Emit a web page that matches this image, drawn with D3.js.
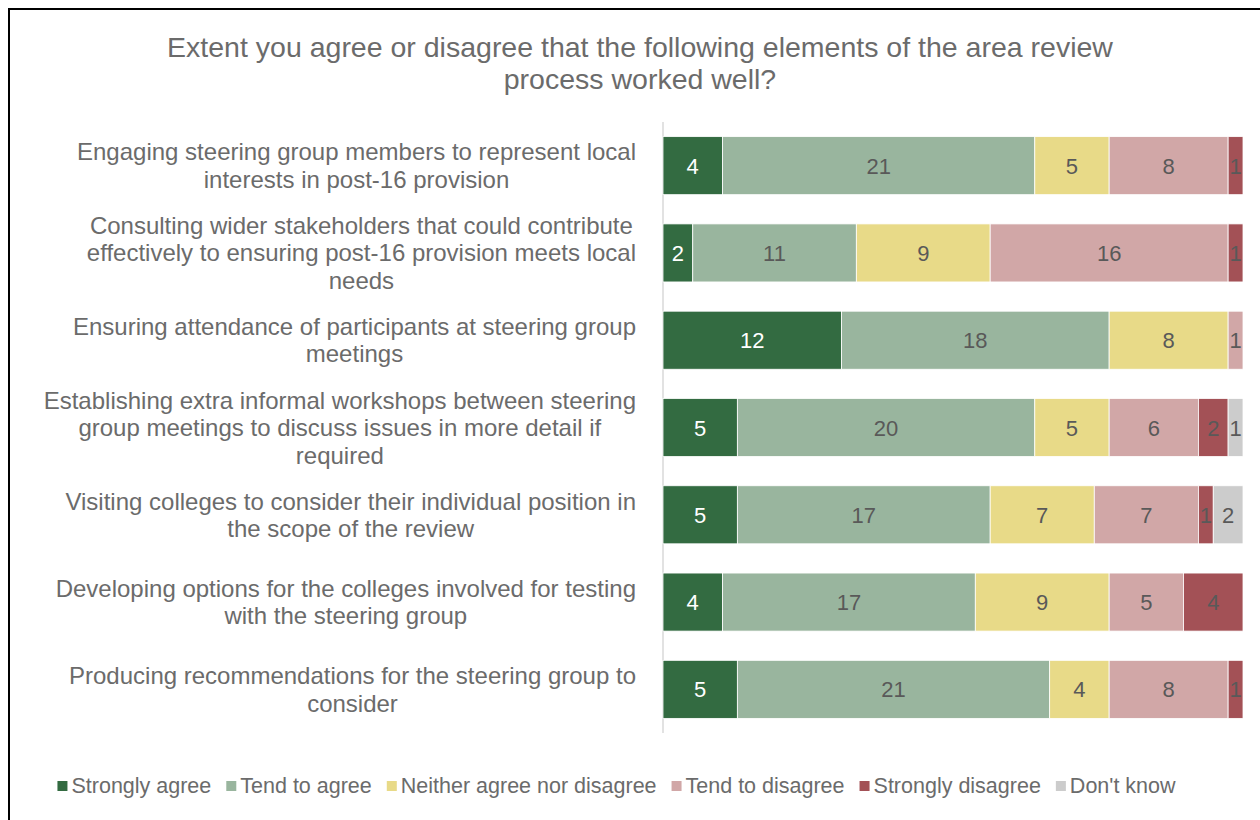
<!DOCTYPE html>
<html>
<head>
<meta charset="utf-8">
<script src="https://cdn.jsdelivr.net/npm/d3@7"></script>
<style>
  html, body { margin: 0; padding: 0; background: #fff; }
  svg { display: block; font-family: "Liberation Sans", Arial, sans-serif; }
</style>
</head>
<body>
<div id="chart"></div>
<script>
// categories (each item split into the lines shown on the chart)
var categories = [
  ['Engaging steering group members to represent local', 'interests in post-16 provision'],
  ['Consulting wider stakeholders that could contribute', 'effectively to ensuring post-16 provision meets local', 'needs'],
  ['Ensuring attendance of participants at steering group', 'meetings'],
  ['Establishing extra informal workshops between steering', 'group meetings to discuss issues in more detail if', 'required'],
  ['Visiting colleges to consider their individual position in', 'the scope of the review'],
  ['Developing options for the colleges involved for testing', 'with the steering group'],
  ['Producing recommendations for the steering group to', 'consider']
];
var seriesNames = ['Strongly agree', 'Tend to agree', 'Neither agree nor disagree', 'Tend to disagree', 'Strongly disagree', "Don't know"];
var stronglyAgree = [4, 2, 12, 5, 5, 4, 5];
var tendToAgree = [21, 11, 18, 20, 17, 17, 21];
var neither = [5, 9, 8, 5, 7, 9, 4];
var tendToDisagree = [8, 16, 1, 6, 7, 5, 8];
var stronglyDisagree = [1, 1, 0, 2, 1, 4, 1];
var dontKnow = [0, 0, 0, 1, 2, 0, 0];
var titleLines = ['Extent you agree or disagree that the following elements of the area review', 'process worked well?'];

var colors = ['#336b41', '#99b59e', '#e8da88', '#d1a7a7', '#a35156', '#cccccc'];
var labelColors = ['#ffffff', '#595959', '#595959', '#595959', '#595959', '#595959'];

var width = 1260, height = 820;
var svg = d3.select('#chart').append('svg')
  .attr('width', width)
  .attr('height', height);

// 外框 (only top and left edges are visible in the picture)
svg.append('rect')
  .attr('x', 9).attr('y', 9)
  .attr('width', width + 20).attr('height', height + 20)
  .attr('fill', '#fff')
  .attr('stroke', '#000')
  .attr('stroke-width', 2);

// title
svg.append('g').selectAll('text')
  .data(titleLines)
  .enter()
  .append('text')
  .attr('x', 640)
  .attr('y', function (d, i) { return 57 + i * 32; })
  .attr('text-anchor', 'middle')
  .attr('font-size', '28.5px')
  .attr('fill', '#6b6b6b')
  .text(function (d) { return d; });

// build rows as a table for d3.stack
var keys = ['sa', 'ta', 'ne', 'td', 'sd', 'dk'];
var table = categories.map(function (c, i) {
  return {
    idx: i,
    sa: stronglyAgree[i], ta: tendToAgree[i], ne: neither[i],
    td: tendToDisagree[i], sd: stronglyDisagree[i], dk: dontKnow[i]
  };
});
var stacked = d3.stack().keys(keys)(table);
var total = d3.max(table, function (d) {
  return d3.sum(keys, function (k) { return d[k]; });
});

var x = d3.scaleLinear().domain([0, total]).range([663, 1243]);
var y = d3.scaleBand()
  .domain(d3.range(categories.length))
  .range([122, 733])
  .paddingInner(0.335)
  .paddingOuter(0.1675);

// vertical axis line
svg.append('line')
  .attr('x1', x(0)).attr('x2', x(0))
  .attr('y1', 122).attr('y2', 733)
  .attr('stroke', '#d9d9d9')
  .attr('stroke-width', 1.5);

// bars
var layers = svg.append('g').selectAll('g')
  .data(stacked)
  .enter()
  .append('g')
  .attr('fill', function (d, i) { return colors[i]; });

layers.selectAll('rect')
  .data(function (d) { return d.filter(function (p) { return p[1] > p[0]; }); })
  .enter()
  .append('rect')
  .attr('x', function (d) { return x(d[0]); })
  .attr('y', function (d) { return y(d.data.idx); })
  .attr('width', function (d) { return x(d[1]) - x(d[0]); })
  .attr('height', y.bandwidth())
  .attr('stroke', '#fff')
  .attr('stroke-width', 0.8);

// data labels
layers.each(function (layer, li) {
  d3.select(this).selectAll('text')
    .data(layer.filter(function (p) { return p[1] > p[0]; }))
    .enter()
    .append('text')
    .attr('x', function (d) { return (x(d[0]) + x(d[1])) / 2; })
    .attr('y', function (d) { return y(d.data.idx) + y.bandwidth() / 2 + 8; })
    .attr('text-anchor', 'middle')
    .attr('font-size', '22px')
    .attr('fill', labelColors[li])
    .text(function (d) { return d[1] - d[0]; });
});

// category labels: each block right-aligned to the axis, lines centred inside it
var catGroup = svg.append('g');
categories.forEach(function (lines, i) {
  var g = catGroup.append('g');
  var texts = g.selectAll('text')
    .data(lines)
    .enter()
    .append('text')
    .attr('font-size', '24px')
    .attr('fill', '#6b6b6b')
    .attr('text-anchor', 'middle')
    .text(function (d) { return d; });
  var maxW = 0;
  texts.each(function () { maxW = Math.max(maxW, this.getComputedTextLength()); });
  var cx = 636 - maxW / 2;
  var lineH = 27.5;
  var cy = y(i) + y.bandwidth() / 2;
  var top = cy - (lines.length - 1) * lineH / 2;
  texts
    .attr('x', cx)
    .attr('y', function (d, j) { return top + j * lineH + 8.5; });
});

// legend
var legend = svg.append('g');
var items = legend.selectAll('g')
  .data(seriesNames)
  .enter()
  .append('g');
items.append('rect')
  .attr('width', 10).attr('height', 10)
  .attr('y', -12)
  .attr('fill', function (d, i) { return colors[i]; });
items.append('text')
  .attr('x', 14)
  .attr('font-size', '21.5px')
  .attr('fill', '#6b6b6b')
  .text(function (d) { return d; });
var offset = 0;
items.each(function () {
  var w = this.querySelector('text').getComputedTextLength();
  d3.select(this).attr('transform', 'translate(' + offset + ',0)');
  offset += 14 + w + 15;
});
var legendW = offset - 15;
legend.attr('transform', 'translate(' + (616.5 - legendW / 2) + ',793)');
</script>
</body>
</html>
